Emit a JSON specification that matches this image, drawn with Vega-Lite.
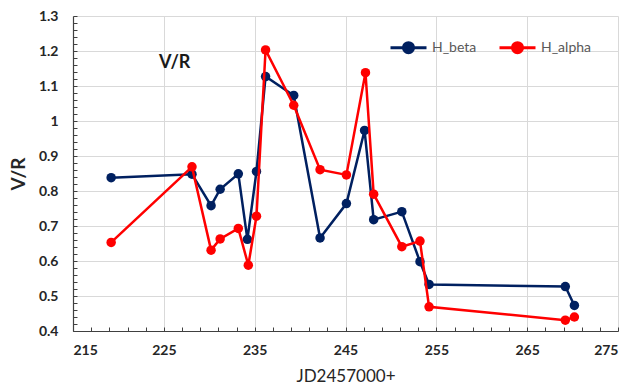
{
  "$schema": "https://vega.github.io/schema/vega-lite/v6.json",
  "width": 545,
  "height": 315,
  "autosize": {"type": "none"},
  "padding": {"left": 73, "top": 16, "right": 14, "bottom": 61},
  "background": "white",
  "config": {
    "view": {"stroke": null},
    "font": "Lato"
  },
  "data": {
    "values": [
      {"series": "H_beta", "jd": 219.2, "vr": 0.838},
      {"series": "H_beta", "jd": 228.1, "vr": 0.848},
      {"series": "H_beta", "jd": 230.2, "vr": 0.758},
      {"series": "H_beta", "jd": 231.2, "vr": 0.805},
      {"series": "H_beta", "jd": 233.2, "vr": 0.849},
      {"series": "H_beta", "jd": 234.2, "vr": 0.662},
      {"series": "H_beta", "jd": 235.2, "vr": 0.856},
      {"series": "H_beta", "jd": 236.2, "vr": 1.127},
      {"series": "H_beta", "jd": 239.3, "vr": 1.073},
      {"series": "H_beta", "jd": 242.2, "vr": 0.666},
      {"series": "H_beta", "jd": 245.1, "vr": 0.764},
      {"series": "H_beta", "jd": 247.1, "vr": 0.973},
      {"series": "H_beta", "jd": 248.1, "vr": 0.718},
      {"series": "H_beta", "jd": 251.2, "vr": 0.741},
      {"series": "H_beta", "jd": 253.2, "vr": 0.598},
      {"series": "H_beta", "jd": 254.2, "vr": 0.533},
      {"series": "H_beta", "jd": 269.2, "vr": 0.527},
      {"series": "H_beta", "jd": 270.2, "vr": 0.473},
      {"series": "H_alpha", "jd": 219.2, "vr": 0.653},
      {"series": "H_alpha", "jd": 228.1, "vr": 0.869},
      {"series": "H_alpha", "jd": 230.2, "vr": 0.631},
      {"series": "H_alpha", "jd": 231.2, "vr": 0.663},
      {"series": "H_alpha", "jd": 233.2, "vr": 0.693},
      {"series": "H_alpha", "jd": 234.3, "vr": 0.588},
      {"series": "H_alpha", "jd": 235.2, "vr": 0.728},
      {"series": "H_alpha", "jd": 236.2, "vr": 1.203},
      {"series": "H_alpha", "jd": 239.3, "vr": 1.045},
      {"series": "H_alpha", "jd": 242.2, "vr": 0.861},
      {"series": "H_alpha", "jd": 245.1, "vr": 0.846},
      {"series": "H_alpha", "jd": 247.2, "vr": 1.138},
      {"series": "H_alpha", "jd": 248.1, "vr": 0.791},
      {"series": "H_alpha", "jd": 251.2, "vr": 0.641},
      {"series": "H_alpha", "jd": 253.2, "vr": 0.657},
      {"series": "H_alpha", "jd": 254.2, "vr": 0.469},
      {"series": "H_alpha", "jd": 269.2, "vr": 0.431},
      {"series": "H_alpha", "jd": 270.2, "vr": 0.44}
    ]
  },
  "resolve": {"axis": {"x": "independent", "y": "independent"}},
  "layer": [
    {
      "transform": [{"filter": "datum.series === 'H_beta'"}],
      "mark": {"type": "line", "strokeWidth": 2.5, "point": {"filled": true, "size": 90, "opacity": 1}},
      "encoding": {
        "x": {
          "field": "jd", "type": "quantitative",
          "scale": {"domain": [215, 275], "nice": false, "zero": false},
          "axis": {
            "orient": "bottom",
            "values": [215, 225, 235, 245, 255, 265, 275],
            "format": "d",
            "title": "JD2457000+",
            "titleFont": "Lato", "titleFontSize": 17, "titleFontWeight": "normal", "titleColor": "#262626",
            "titlePadding": 11,
            "labelFont": "Lato", "labelFontSize": 14, "labelFontWeight": "bold", "labelColor": "#262626",
            "labelPadding": 12,
            "ticks": false,
            "grid": true, "gridColor": "#d9d9d9", "gridWidth": 1,
            "domainColor": "#404040", "domainWidth": 1.2
          }
        },
        "y": {
          "field": "vr", "type": "quantitative",
          "scale": {"domain": [0.4, 1.3], "nice": false, "zero": false},
          "axis": {
            "orient": "left",
            "values": [0.4, 0.5, 0.6, 0.7, 0.8, 0.9, 1, 1.1, 1.2, 1.3],
            "format": "~g",
            "title": "V/R",
            "titleFont": "Lato", "titleFontSize": 19, "titleFontWeight": "bold", "titleColor": "#262626",
            "titlePadding": 10,
            "labelFont": "Lato", "labelFontSize": 14, "labelFontWeight": "bold", "labelColor": "#262626",
            "labelPadding": 15,
            "ticks": false,
            "grid": true, "gridColor": "#d9d9d9", "gridWidth": 1,
            "domainColor": "#404040", "domainWidth": 1.2
          }
        },
        "color": {
          "field": "series", "type": "nominal",
          "scale": {"domain": ["H_beta", "H_alpha"], "range": ["#002060", "#FF0000"]},
          "legend": {
            "title": null,
            "orient": "none",
            "direction": "horizontal",
            "legendX": 316,
            "legendY": 12,
            "symbolType": "M-1,0L1,0M0.28,0A0.28,0.28,0,1,1,-0.28,0A0.28,0.28,0,1,1,0.28,0",
            "symbolSize": 1296,
            "symbolStrokeWidth": 3,
            "labelFont": "Lato", "labelFontSize": 14, "labelColor": "#595959",
            "labelOffset": 4,
            "columnPadding": 16,
            "padding": 0,
            "encode": {"symbols": {"update": {"fill": {"scale": "color", "field": "value"}, "opacity": {"value": 1}}}}
          }
        }
      }
    },
    {
      "transform": [{"filter": "datum.series === 'H_alpha'"}],
      "mark": {"type": "line", "strokeWidth": 2.5, "point": {"filled": true, "size": 90, "opacity": 1}},
      "encoding": {
        "x": {
          "field": "jd", "type": "quantitative",
          "axis": {
            "orient": "bottom",
            "values": [215, 217, 219, 221, 223, 225, 227, 229, 231, 233, 235, 237, 239, 241, 243, 245, 247, 249, 251, 253, 255, 257, 259, 261, 263, 265, 267, 269, 271, 273, 275],
            "labels": false, "title": null, "grid": false, "domain": false,
            "offset": -4,
            "ticks": true, "tickSize": 4, "tickColor": "#404040", "tickWidth": 1
          }
        },
        "y": {
          "field": "vr", "type": "quantitative",
          "axis": {
            "orient": "left",
            "values": [0.4, 0.42, 0.44, 0.46, 0.48, 0.5, 0.52, 0.54, 0.56, 0.58, 0.6, 0.62, 0.64, 0.66, 0.68, 0.7, 0.72, 0.74, 0.76, 0.78, 0.8, 0.82, 0.84, 0.86, 0.88, 0.9, 0.92, 0.94, 0.96, 0.98, 1, 1.02, 1.04, 1.06, 1.08, 1.1, 1.12, 1.14, 1.16, 1.18, 1.2, 1.22, 1.24, 1.26, 1.28, 1.3],
            "labels": false, "title": null, "grid": false, "domain": false,
            "offset": -4,
            "ticks": true, "tickSize": 4, "tickColor": "#404040", "tickWidth": 1
          }
        },
        "color": {"field": "series", "type": "nominal"}
      }
    },
    {
      "data": {"values": [{"label": "V/R", "jd": 226.2, "vr": 1.166}]},
      "mark": {"type": "text", "font": "Lato", "fontSize": 18, "fontWeight": "bold", "color": "#1a1a1a"},
      "encoding": {
        "x": {"field": "jd", "type": "quantitative", "axis": null},
        "y": {"field": "vr", "type": "quantitative", "axis": null},
        "text": {"field": "label"}
      }
    }
  ]
}
